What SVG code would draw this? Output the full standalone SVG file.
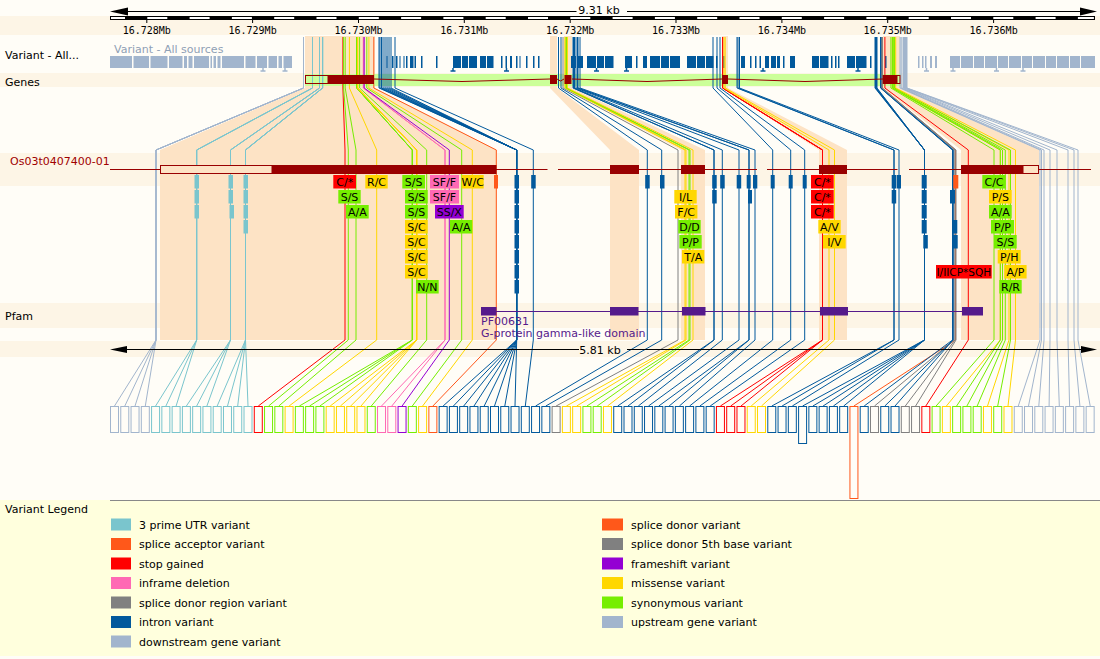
<svg xmlns="http://www.w3.org/2000/svg" width="1100" height="659" viewBox="0 0 1100 659">
<style>
text{font-family:"DejaVu Sans","Liberation Sans",sans-serif;font-size:11px;fill:#000}
.mono{font-family:"DejaVu Sans Mono","Liberation Mono",monospace;font-size:10px;text-anchor:middle}
.lt text,.lt{text-anchor:middle}
.band{fill:#fdf5e6}
.peach{fill:#fde3c5}
polyline{fill:none;stroke-width:1}
.bx rect{fill:#fffdf7;stroke-width:1}
.ds{stroke:#a2b5cd}.us{stroke:#a2b5cd}.utr{stroke:#7ac5cd}.stp{stroke:#ff0000}.syn{stroke:#76ee00}.mis{stroke:#ffd700}
.del{stroke:#ff69b4}.fs{stroke:#9400d3}.spl{stroke:#ff581a}.int{stroke:#02599c}.sdr{stroke:#808080}
.fds{fill:#a2b5cd}.futr{fill:#7ac5cd}.fstp{fill:#ff0000}.fsyn{fill:#76ee00}.fmis{fill:#ffd700}.fdel{fill:#ff69b4}
.ffs{fill:#9400d3}.fspl{fill:#ff581a}.fint{fill:#02599c}.fsdr{fill:#808080}
.ex{fill:#990000}.utrx{fill:none;stroke:#990000;stroke-width:1}
.pf{fill:#551a8b}
.gap{fill:#fffdf7}
</style>
<rect x="0" y="0" width="1100" height="659" fill="#fffdf7"/>
<g id="bands">
<rect class="band" x="0" y="16" width="1100" height="19"/>
<rect class="band" x="0" y="73" width="1100" height="14"/>
<rect class="band" x="0" y="153" width="1100" height="33"/>
<rect class="band" x="0" y="303" width="1100" height="25"/>
<rect class="band" x="0" y="341" width="1100" height="16"/>
</g>
<g id="legend-bg">
<rect x="0" y="500" width="1100" height="156" fill="#ffffdd"/>
<line x1="110" y1="500.5" x2="1100" y2="500.5" stroke="#888" stroke-width="1"/>
</g>
<g id="exon-shading">
<polygon class="peach" points="305,36 375,36 375,88 497,150 497,340 160,340 160,150 305,88"/>
<polygon class="peach" points="550,36 557,36 557,88 639,150 639,340 610,340 610,150 550,88"/>
<polygon class="peach" points="564,36 572,36 572,88 705,150 705,340 681,340 681,150 564,88"/>
<polygon class="peach" points="722,36 728,36 728,88 847,150 847,340 819,340 819,150 722,88"/>
<polygon class="peach" points="883,36 900,36 900,88 1039,150 1039,340 961,340 961,150 883,88"/>
</g>
<g id="gene-band"><rect x="305" y="74" width="596" height="12" fill="#ccff99"/></g>
<g id="variant-track">
<text x="114" y="53" style="fill:#8fa0b5">Variant - All sources</text>
<rect class="fds" x="110" y="56" width="182" height="12"/>
<g class="gap">
<rect x="132" y="56" width="1.5" height="12"/><rect x="149" y="56" width="1.5" height="12"/><rect x="167.5" y="56" width="1.5" height="12"/><rect x="182.5" y="56" width="1.5" height="12"/><rect x="187" y="56" width="1.5" height="12"/><rect x="192.5" y="56" width="1.5" height="12"/><rect x="209" y="56" width="1.5" height="12"/><rect x="212" y="56" width="1.5" height="12"/><rect x="216" y="56" width="1.5" height="12"/><rect x="220.5" y="56" width="1.5" height="12"/><rect x="244" y="56" width="1.5" height="12"/><rect x="255.5" y="56" width="1.5" height="12"/><rect x="267" y="56" width="1.5" height="12"/><rect x="277" y="56" width="1.5" height="12"/><rect x="282" y="56" width="1.5" height="12"/>
</g>
<g class="fint">
<rect x="386.5" y="56" width="1" height="12"/><rect x="392" y="56" width="1.5" height="12"/><rect x="396" y="56" width="1.5" height="12"/><rect x="399.5" y="56" width="1" height="12"/><rect x="403.5" y="56" width="1" height="12"/><rect x="406" y="56" width="1.5" height="12"/><rect x="410" y="56" width="3.5" height="12"/><rect x="414.5" y="56" width="1.5" height="12"/><rect x="421" y="56" width="1.5" height="12"/><rect x="436" y="56" width="1.5" height="12"/><rect x="453" y="56" width="8" height="12"/><rect x="462" y="56" width="6" height="12"/><rect x="469" y="56" width="8" height="12"/><rect x="480" y="56" width="6" height="12"/><rect x="487" y="56" width="6.5" height="12"/><rect x="501" y="56" width="1.5" height="12"/><rect x="505.5" y="56" width="1.5" height="12"/><rect x="510" y="56" width="2" height="12"/><rect x="516" y="56" width="1.5" height="12"/><rect x="519.5" y="56" width="1" height="12"/><rect x="526" y="56" width="1.5" height="12"/><rect x="533" y="56" width="1.5" height="12"/><rect x="538" y="56" width="1.5" height="12"/><rect x="571" y="56" width="5" height="12"/><rect x="577" y="56" width="6" height="12"/><rect x="587" y="56" width="9" height="12"/><rect x="597" y="56" width="7" height="12"/><rect x="605" y="56" width="8.5" height="12"/><rect x="625" y="56" width="7" height="12"/><rect x="636" y="56" width="1.5" height="12"/><rect x="643" y="56" width="4" height="12"/><rect x="650" y="56" width="10" height="12"/><rect x="661" y="56" width="8" height="12"/><rect x="670" y="56" width="10" height="12"/><rect x="687" y="56" width="9" height="12"/><rect x="697" y="56" width="8" height="12"/><rect x="706" y="56" width="7.5" height="12"/><rect x="716" y="56" width="1.5" height="12"/><rect x="723" y="56" width="1.5" height="12"/><rect x="741" y="56" width="4" height="12"/><rect x="750" y="56" width="1.5" height="12"/><rect x="755" y="56" width="1.5" height="12"/><rect x="759.5" y="56" width="1.5" height="12"/><rect x="765" y="56" width="4" height="12"/><rect x="771" y="56" width="5" height="12"/><rect x="777" y="56" width="3" height="12"/><rect x="783" y="56" width="1.5" height="12"/><rect x="790" y="56" width="5" height="12"/><rect x="812" y="56" width="7" height="12"/><rect x="820" y="56" width="8.5" height="12"/><rect x="831" y="56" width="1.5" height="12"/><rect x="835" y="56" width="1.5" height="12"/><rect x="838" y="56" width="1.5" height="12"/><rect x="847" y="56" width="8" height="12"/><rect x="856" y="56" width="10.5" height="12"/><rect x="870" y="56" width="1.5" height="12"/><rect x="885" y="56" width="1.5" height="12"/>
<path d="M450.5,71h5M453,68v3M504,71h5M506.5,68v3M594,71h5M596.5,68v3M624,71h5M626.5,68v3M760.5,71h5M763,68v3M855.5,71h5M858,68v3" stroke="#02599c" stroke-width="1.5" fill="none"/>
</g>
<g class="fds">
<rect x="918" y="56" width="1.5" height="12"/><rect x="922" y="56" width="1.5" height="12"/><rect x="925" y="56" width="1.5" height="12"/><rect x="930" y="56" width="2" height="12"/><rect x="935" y="56" width="2" height="12"/><rect x="950" y="56" width="145" height="12"/>
</g>
<g class="gap">
<rect x="960" y="56" width="1" height="12"/><rect x="973" y="56" width="1" height="12"/><rect x="984" y="56" width="1" height="12"/><rect x="997" y="56" width="1" height="12"/><rect x="1008" y="56" width="1" height="12"/><rect x="1021" y="56" width="1" height="12"/><rect x="1032" y="56" width="1" height="12"/><rect x="1045" y="56" width="1" height="12"/><rect x="1056" y="56" width="1" height="12"/><rect x="1069" y="56" width="1" height="12"/><rect x="1080" y="56" width="1" height="12"/>
</g>
<path d="M260.5,71h5M263,68v3M282.5,71h5M285,68v3M924,71h5M926.5,68v3M950.5,71h5M953,68v3M994,71h5M996.5,68v3M1020.5,71h5M1023,68v3" stroke="#a2b5cd" stroke-width="1.5" fill="none"/>
</g>
<g id="connectors">
<polyline class="ds" points="303.5,37 303.5,88 156,150 156,340 114.5,406"/>
<polyline class="ds" points="303.5,37 303.5,88 156,150 156,340 124.8,406"/>
<polyline class="ds" points="303.5,37 303.5,88 156,150 156,340 135,406"/>
<polyline class="ds" points="303.5,37 303.5,88 156,150 156,340 145.3,406"/>
<polyline class="utr" points="312.5,37 312.5,88 196.7,150 196.7,340 155.6,406"/>
<polyline class="utr" points="312.5,37 312.5,88 196.7,150 196.7,340 165.9,406"/>
<polyline class="utr" points="312.5,37 312.5,88 196.7,150 196.7,340 176.1,406"/>
<polyline class="utr" points="319.5,37 319.5,88 230.5,150 230.5,340 186.4,406"/>
<polyline class="utr" points="319.5,37 319.5,88 230.5,150 230.5,340 196.7,406"/>
<polyline class="utr" points="319.5,37 319.5,88 230.5,150 230.5,340 206.9,406"/>
<polyline class="utr" points="322.6,37 322.6,88 245.5,150 245.5,340 217.2,406"/>
<polyline class="utr" points="322.6,37 322.6,88 245.5,150 245.5,340 227.5,406"/>
<polyline class="utr" points="322.6,37 322.6,88 245.5,150 245.5,340 237.7,406"/>
<polyline class="utr" points="322.6,37 322.6,88 245.5,150 245.5,340 248,406"/>
<polyline class="stp" points="342.9,37 342.9,88 345,150 345,340 258.3,406"/>
<polyline class="syn" points="343.6,37 343.6,88 348.3,150 348.3,340 268.6,406"/>
<polyline class="syn" points="345.2,37 345.2,88 356,150 356,340 278.8,406"/>
<polyline class="mis" points="349.4,37 349.4,88 376.7,150 376.7,340 289.1,406"/>
<polyline class="syn" points="356.7,37 356.7,88 412.3,150 412.3,340 299.4,406"/>
<polyline class="syn" points="356.7,37 356.7,88 412.3,150 412.3,340 309.6,406"/>
<polyline class="syn" points="356.7,37 356.7,88 412.3,150 412.3,340 319.9,406"/>
<polyline class="mis" points="357.6,37 357.6,88 416.7,150 416.7,340 330.2,406"/>
<polyline class="mis" points="357.6,37 357.6,88 416.7,150 416.7,340 340.4,406"/>
<polyline class="mis" points="357.6,37 357.6,88 416.7,150 416.7,340 350.7,406"/>
<polyline class="mis" points="357.6,37 357.6,88 416.7,150 416.7,340 361,406"/>
<polyline class="syn" points="359.6,37 359.6,88 426.7,150 426.7,340 371.3,406"/>
<polyline class="del" points="363.4,37 363.4,88 445,150 445,340 381.5,406"/>
<polyline class="del" points="363.4,37 363.4,88 445,150 445,340 391.8,406"/>
<polyline class="fs" points="364.2,37 364.2,88 449.3,150 449.3,340 402.1,406"/>
<polyline class="syn" points="366.8,37 366.8,88 461.7,150 461.7,340 412.3,406"/>
<polyline class="mis" points="368.9,37 368.9,88 472.3,150 472.3,340 422.6,406"/>
<polyline class="spl" points="373.8,37 373.8,88 496.3,150 496.3,340 432.9,406"/>
<polyline class="int" points="379,37 379,88 516.7,150 516.7,340 443.1,406"/>
<polyline class="int" points="380,37 380,88 516.7,150 516.7,340 453.4,406"/>
<polyline class="int" points="381.5,37 381.5,88 516.7,150 516.7,340 463.7,406"/>
<polyline class="int" points="383,37 383,88 516.7,150 516.7,340 474,406"/>
<polyline class="int" points="385,37 385,88 516.7,150 516.7,340 484.2,406"/>
<polyline class="int" points="387,37 387,88 516.7,150 516.7,340 494.5,406"/>
<polyline class="int" points="389,37 389,88 516.7,150 516.7,340 504.8,406"/>
<polyline class="int" points="391,37 391,88 516.7,150 516.7,340 515,406"/>
<polyline class="int" points="395,37 395,88 533.3,150 533.3,340 525.3,406"/>
<polyline class="int" points="558.5,37 558.5,88 647.3,150 647.3,340 535.6,406"/>
<polyline class="int" points="561,37 561,88 661.7,150 661.7,340 545.8,406"/>
<polyline class="sdr" points="563,37 563,88 678,150 678,340 556.1,406"/>
<polyline class="mis" points="565,37 565,88 685,150 685,340 566.4,406"/>
<polyline class="mis" points="565.3,37 565.3,88 686,150 686,340 576.7,406"/>
<polyline class="syn" points="566.2,37 566.2,88 689,150 689,340 586.9,406"/>
<polyline class="syn" points="566.5,37 566.5,88 690,150 690,340 597.2,406"/>
<polyline class="mis" points="567.4,37 567.4,88 693,150 693,340 607.5,406"/>
<polyline class="int" points="573,37 573,88 714,150 714,340 617.7,406"/>
<polyline class="int" points="573.5,37 573.5,88 714,150 714,340 628,406"/>
<polyline class="int" points="574.5,37 574.5,88 722.3,150 722.3,340 638.3,406"/>
<polyline class="int" points="576,37 576,88 739,150 739,340 648.5,406"/>
<polyline class="int" points="577.5,37 577.5,88 749,150 749,340 658.8,406"/>
<polyline class="int" points="578,37 578,88 749,150 749,340 669.1,406"/>
<polyline class="int" points="580,37 580,88 755,150 755,340 679.4,406"/>
<polyline class="int" points="713,37 713,88 772.7,150 772.7,340 689.6,406"/>
<polyline class="int" points="717,37 717,88 790.7,150 790.7,340 699.9,406"/>
<polyline class="int" points="720,37 720,88 804.7,150 804.7,340 710.2,406"/>
<polyline class="stp" points="722.6,37 722.6,88 822.5,150 822.5,340 720.4,406"/>
<polyline class="stp" points="722.6,37 722.6,88 822.5,150 822.5,340 730.7,406"/>
<polyline class="stp" points="722.6,37 722.6,88 822.5,150 822.5,340 741,406"/>
<polyline class="mis" points="724,37 724,88 829,150 829,340 751.2,406"/>
<polyline class="mis" points="725.2,37 725.2,88 834.5,150 834.5,340 761.5,406"/>
<polyline class="int" points="737,37 737,88 894,150 894,340 771.8,406"/>
<polyline class="int" points="738,37 738,88 894,150 894,340 782.1,406"/>
<polyline class="int" points="739.5,37 739.5,88 899,150 899,340 792.3,406"/>
<polyline class="int" points="875,37 875,88 924.5,150 924.5,340 802.6,406"/>
<polyline class="int" points="875.5,37 875.5,88 924.5,150 924.5,340 812.9,406"/>
<polyline class="int" points="876,37 876,88 924.5,150 924.5,340 823.1,406"/>
<polyline class="int" points="876.5,37 876.5,88 924.5,150 924.5,340 833.4,406"/>
<polyline class="int" points="877,37 877,88 924.5,150 924.5,340 843.7,406"/>
<polyline class="spl" points="882,37 882,88 955.5,150 955.5,340 853.9,406"/>
<polyline class="int" points="880.5,37 880.5,88 952.5,150 952.5,340 864.2,406"/>
<polyline class="sdr" points="881.5,37 881.5,88 954,150 954,340 874.5,406"/>
<polyline class="int" points="880.7,37 880.7,88 953,150 953,340 884.8,406"/>
<polyline class="int" points="881,37 881,88 953,150 953,340 895,406"/>
<polyline class="sdr" points="882,37 882,88 955,150 955,340 905.3,406"/>
<polyline class="sdr" points="882.4,37 882.4,88 956,150 956,340 915.6,406"/>
<polyline class="stp" points="884.9,37 884.9,88 968.3,150 968.3,340 925.8,406"/>
<polyline class="syn" points="890.9,37 890.9,88 994,150 994,340 936.1,406"/>
<polyline class="mis" points="892.3,37 892.3,88 1000.3,150 1000.3,340 946.4,406"/>
<polyline class="syn" points="892.3,37 892.3,88 1000.3,150 1000.3,340 956.6,406"/>
<polyline class="syn" points="892.8,37 892.8,88 1002.5,150 1002.5,340 966.9,406"/>
<polyline class="syn" points="893.4,37 893.4,88 1005.3,150 1005.3,340 977.2,406"/>
<polyline class="mis" points="894.3,37 894.3,88 1009,150 1009,340 987.5,406"/>
<polyline class="syn" points="894.6,37 894.6,88 1010.5,150 1010.5,340 997.7,406"/>
<polyline class="mis" points="895.7,37 895.7,88 1015.5,150 1015.5,340 1008,406"/>
<polyline class="us" points="900,37 900,88 1040,150 1040,340 1018.3,406"/>
<polyline class="us" points="901,37 901,88 1041.5,150 1041.5,340 1028.5,406"/>
<polyline class="us" points="902,37 902,88 1044,150 1044,340 1038.8,406"/>
<polyline class="us" points="903.5,37 903.5,88 1050,150 1050,340 1049.1,406"/>
<polyline class="us" points="904.5,37 904.5,88 1057,150 1057,340 1059.3,406"/>
<polyline class="us" points="905.5,37 905.5,88 1068,150 1068,340 1069.6,406"/>
<polyline class="us" points="906.5,37 906.5,88 1074,150 1074,340 1079.9,406"/>
<polyline class="us" points="907,37 907,88 1078,150 1078,340 1090.2,406"/>
</g>
<g id="gene">
<polyline points="374,79 462,81.5 550,79" stroke="#990000"/>
<polyline points="557,79 560.5,81 564,79" stroke="#990000"/>
<polyline points="572,79 647,81.5 722,79" stroke="#990000"/>
<polyline points="728,79 805,81.5 883,79" stroke="#990000"/>
<rect class="utrx" x="305.5" y="75.5" width="22.5" height="8"/>
<rect class="ex" x="328" y="75" width="46" height="9"/>
<rect class="ex" x="550" y="75" width="7" height="9"/>
<rect class="ex" x="564.5" y="75" width="7" height="9"/>
<rect class="ex" x="722" y="75" width="6" height="9"/>
<rect class="ex" x="882.7" y="75" width="14.3" height="9"/>
<rect class="utrx" x="897" y="75.5" width="3" height="8"/>
</g>
<g id="transcript">
<path d="M110,169.5H547.5M558,169.5H757M767,169.5H897.5M909,169.5H1091" stroke="#990000" stroke-width="1"/>
<rect class="utrx" x="160.5" y="165.5" width="111.5" height="8" style="fill:#fde3c5"/>
<rect class="ex" x="272" y="165" width="224.5" height="9"/>
<rect class="ex" x="610" y="165" width="29" height="9"/>
<rect class="ex" x="681" y="165" width="24" height="9"/>
<rect class="ex" x="819" y="165" width="28" height="9"/>
<rect class="ex" x="961" y="165" width="62" height="9"/>
<rect class="utrx" x="1023" y="165.5" width="15.5" height="8" style="fill:#fde3c5"/>
</g>
<g id="markers">
<g class="futr">
<rect x="194.5" y="175" width="4.5" height="13.5"/><rect x="194.5" y="190" width="4.5" height="13.5"/><rect x="194.5" y="205" width="4.5" height="13.5"/>
<rect x="228.5" y="175" width="4.5" height="13.5"/><rect x="228.5" y="190" width="4.5" height="13.5"/><rect x="229.5" y="205" width="4.5" height="13.5"/>
<rect x="243.5" y="175" width="4.5" height="13.5"/><rect x="243.5" y="190" width="4.5" height="13.5"/><rect x="243.5" y="205" width="4.5" height="13.5"/><rect x="243.5" y="220" width="4.5" height="13.5"/>
</g>
<g class="fspl"><rect x="494" y="175" width="4" height="13.5"/><rect x="953.3" y="175" width="5" height="13.5"/></g>
<g class="fint">
<rect x="514.5" y="175" width="4.5" height="13.5"/><rect x="514.5" y="190" width="4.5" height="13.5"/><rect x="514.5" y="205" width="4.5" height="13.5"/><rect x="514.5" y="220" width="4.5" height="13.5"/><rect x="514.5" y="235" width="4.5" height="13.5"/><rect x="514.5" y="250" width="4.5" height="13.5"/><rect x="514.5" y="265" width="4.5" height="13.5"/><rect x="514.5" y="280" width="4.5" height="13.5"/>
<rect x="531.2" y="175" width="4.5" height="13.5"/>
<rect x="645.2" y="175" width="4.5" height="13.5"/>
<rect x="660" y="175" width="4.5" height="13.5"/>
<rect x="712.2" y="175" width="4.5" height="13.5"/><rect x="712.2" y="190" width="4.5" height="13.5"/>
<rect x="720.2" y="175" width="4.5" height="13.5"/>
<rect x="736.7" y="175" width="4.5" height="13.5"/>
<rect x="746.7" y="175" width="4" height="13.5"/><rect x="748" y="190" width="4" height="13.5"/>
<rect x="753" y="175" width="4.3" height="13.5"/>
<rect x="770.7" y="175" width="4" height="13.5"/>
<rect x="788.7" y="175" width="4" height="13.5"/>
<rect x="802.7" y="175" width="4" height="13.5"/>
<rect x="891.7" y="175" width="4.5" height="13.5"/><rect x="891.7" y="190" width="4.5" height="13.5"/>
<rect x="896.7" y="175" width="4.3" height="13.5"/>
<rect x="921.7" y="175" width="5" height="13.5"/><rect x="921.7" y="190" width="5" height="13.5"/><rect x="921.7" y="205" width="5" height="13.5"/><rect x="921.7" y="220" width="5" height="13.5"/><rect x="923.3" y="235" width="4.5" height="13.5"/>
<rect x="950" y="190" width="5" height="13.5"/><rect x="952.3" y="220" width="5" height="13.5"/><rect x="952.7" y="235" width="5" height="13.5"/>
</g>
</g>
<g id="labels" class="lt">
<rect class="fstp" x="333.3" y="175" width="22.7" height="13.5"/><text x="344.7" y="186">C/*</text>
<rect class="fmis" x="365.3" y="175" width="22.4" height="13.5"/><text x="376.5" y="186">R/C</text>
<rect class="fsyn" x="402.3" y="175" width="22.7" height="13.5"/><text x="413.7" y="186">S/S</text>
<rect class="fdel" x="430" y="175" width="29" height="13.5"/><text x="444.5" y="186">SF/F</text>
<rect class="fmis" x="461.7" y="175" width="22" height="13.5"/><text x="472.7" y="186">W/C</text>
<rect class="fsyn" x="338.3" y="190" width="22.4" height="13.5"/><text x="349.5" y="201">S/S</text>
<rect class="fsyn" x="405" y="190" width="22.7" height="13.5"/><text x="416.4" y="201">S/S</text>
<rect class="fdel" x="430" y="190" width="29" height="13.5"/><text x="444.5" y="201">SF/F</text>
<rect class="fsyn" x="346" y="205" width="22.7" height="13.5"/><text x="357.4" y="216">A/A</text>
<rect class="fsyn" x="405" y="205" width="22.7" height="13.5"/><text x="416.4" y="216">S/S</text>
<rect class="ffs" x="435" y="205" width="28.7" height="13.5"/><text x="449.3" y="216">SS/X</text>
<rect class="fmis" x="405" y="220" width="22.7" height="13.5"/><text x="416.4" y="231">S/C</text>
<rect class="fsyn" x="450" y="220" width="22.3" height="13.5"/><text x="461.2" y="231">A/A</text>
<rect class="fmis" x="405" y="235" width="22.7" height="13.5"/><text x="416.4" y="246">S/C</text>
<rect class="fmis" x="405" y="250" width="22.7" height="13.5"/><text x="416.4" y="261">S/C</text>
<rect class="fmis" x="405" y="265" width="22.7" height="13.5"/><text x="416.4" y="276">S/C</text>
<rect class="fsyn" x="416" y="280" width="22.7" height="13.5"/><text x="427.4" y="291">N/N</text>
<rect class="fmis" x="674.3" y="190" width="22.4" height="13.5"/><text x="685.5" y="201">I/L</text>
<rect class="fmis" x="675" y="205" width="22.4" height="13.5"/><text x="686.2" y="216">F/C</text>
<rect class="fsyn" x="678.3" y="220" width="22.4" height="13.5"/><text x="689.5" y="231">D/D</text>
<rect class="fsyn" x="679.3" y="235" width="22.4" height="13.5"/><text x="690.5" y="246">P/P</text>
<rect class="fmis" x="682" y="250" width="22.3" height="13.5"/><text x="693.2" y="261">T/A</text>
<rect class="fstp" x="811" y="175" width="22.7" height="13.5"/><text x="822.4" y="186">C/*</text>
<rect class="fstp" x="811" y="190" width="22.7" height="13.5"/><text x="822.4" y="201">C/*</text>
<rect class="fstp" x="811" y="205" width="22.7" height="13.5"/><text x="822.4" y="216">C/*</text>
<rect class="fmis" x="818.3" y="220" width="22.4" height="13.5"/><text x="829.5" y="231">A/V</text>
<rect class="fmis" x="823" y="235" width="22.7" height="13.5"/><text x="834.4" y="246">I/V</text>
<rect class="fsyn" x="982.3" y="175" width="23.4" height="13.5"/><text x="994" y="186">C/C</text>
<rect class="fmis" x="989" y="190" width="22.7" height="13.5"/><text x="1000.4" y="201">P/S</text>
<rect class="fsyn" x="989" y="205" width="22.7" height="13.5"/><text x="1000.4" y="216">A/A</text>
<rect class="fsyn" x="991" y="220" width="23" height="13.5"/><text x="1002.5" y="231">P/P</text>
<rect class="fsyn" x="994" y="235" width="22.7" height="13.5"/><text x="1005.4" y="246">S/S</text>
<rect class="fmis" x="997.7" y="250" width="23" height="13.5"/><text x="1009.2" y="261">P/H</text>
<rect class="fstp" x="936" y="265" width="55.7" height="13.5"/><text x="963.8" y="276" style="font-size:10.5px">I/IICP*SQH</text>
<rect class="fmis" x="1004.3" y="265" width="22.3" height="13.5"/><text x="1015.5" y="276">A/P</text>
<rect class="fsyn" x="999.3" y="280" width="22.4" height="13.5"/><text x="1010.5" y="291">R/R</text>
</g>
<g id="pfam">
<line x1="481" y1="311.5" x2="963" y2="311.5" stroke="#551a8b" stroke-width="1"/>
<rect class="pf" x="481" y="307" width="15.5" height="8.5"/>
<rect class="pf" x="610" y="307" width="28.5" height="8.5"/>
<rect class="pf" x="682" y="307" width="23.5" height="8.5"/>
<rect class="pf" x="820" y="307" width="28" height="8.5"/>
<rect class="pf" x="962" y="307" width="21" height="8.5"/>
<text x="481" y="325" style="fill:#551a8b">PF00631</text>
<text x="481" y="337" style="fill:#551a8b">G-protein gamma-like domain</text>
</g>
<g id="scale-top">
<path d="M128,11.5H576.5M627,11.5H1081" stroke="#000" stroke-width="1.2"/>
<polygon points="110,11.5 128,7.5 128,15.5"/>
<polygon points="1097,11.5 1080,7.5 1080,15.5"/>
<text x="599" y="14" style="text-anchor:middle">9.31 kb</text>
<rect x="110" y="16" width="985" height="4" fill="#000"/>
<g fill="#fff">
<rect x="111" y="17" width="14" height="2"/><rect x="147.3" y="17" width="20" height="2"/><rect x="189.6" y="17" width="20" height="2"/><rect x="231.9" y="17" width="20" height="2"/><rect x="274.2" y="17" width="20" height="2"/><rect x="316.5" y="17" width="20" height="2"/><rect x="358.8" y="17" width="20" height="2"/><rect x="401.1" y="17" width="20" height="2"/><rect x="443.4" y="17" width="20" height="2"/><rect x="485.7" y="17" width="20" height="2"/><rect x="528" y="17" width="20" height="2"/><rect x="570.3" y="17" width="20" height="2"/><rect x="612.6" y="17" width="20" height="2"/><rect x="654.9" y="17" width="20" height="2"/><rect x="697.2" y="17" width="20" height="2"/><rect x="739.5" y="17" width="20" height="2"/><rect x="781.8" y="17" width="20" height="2"/><rect x="824.1" y="17" width="20" height="2"/><rect x="866.4" y="17" width="20" height="2"/><rect x="908.7" y="17" width="20" height="2"/><rect x="951" y="17" width="20" height="2"/><rect x="993.3" y="17" width="20" height="2"/><rect x="1035.6" y="17" width="20" height="2"/><rect x="1077.9" y="17" width="16" height="2"/>
</g>
<path d="M146.8,20v3M252.6,20v3M358.5,20v3M464.3,20v3M570.2,20v3M676,20v3M781.9,20v3M887.7,20v3M993.6,20v3" stroke="#000" stroke-width="1"/>
<text class="mono" x="146.8" y="34">16.728Mb</text>
<text class="mono" x="252.6" y="34">16.729Mb</text>
<text class="mono" x="358.5" y="34">16.730Mb</text>
<text class="mono" x="464.3" y="34">16.731Mb</text>
<text class="mono" x="570.2" y="34">16.732Mb</text>
<text class="mono" x="676" y="34">16.733Mb</text>
<text class="mono" x="781.9" y="34">16.734Mb</text>
<text class="mono" x="887.7" y="34">16.735Mb</text>
<text class="mono" x="993.6" y="34">16.736Mb</text>
</g>
<g id="scale-transcript">
<path d="M126,349.5H579M627,349.5H1081" stroke="#000" stroke-width="1.2"/>
<polygon points="110,349.5 127,346 127,353"/>
<polygon points="1097,349.5 1081,346 1081,353"/>
<text x="600" y="353.5" style="text-anchor:middle">5.81 kb</text>
</g>
<g id="track-labels">
<text x="5" y="59">Variant - All...</text>
<text x="5" y="86">Genes</text>
<text x="10" y="164.5" style="fill:#a00000">Os03t0407400-01</text>
<text x="5" y="320">Pfam</text>
<text x="5" y="513">Variant Legend</text>
</g>
<g id="boxes" class="bx">
<rect class="ds" x="110.5" y="406.5" width="8" height="26"/>
<rect class="ds" x="120.77" y="406.5" width="8" height="26"/>
<rect class="ds" x="131.04" y="406.5" width="8" height="26"/>
<rect class="ds" x="141.31" y="406.5" width="8" height="26"/>
<rect class="utr" x="151.58" y="406.5" width="8" height="26"/>
<rect class="utr" x="161.85" y="406.5" width="8" height="26"/>
<rect class="utr" x="172.12" y="406.5" width="8" height="26"/>
<rect class="utr" x="182.39" y="406.5" width="8" height="26"/>
<rect class="utr" x="192.66" y="406.5" width="8" height="26"/>
<rect class="utr" x="202.93" y="406.5" width="8" height="26"/>
<rect class="utr" x="213.2" y="406.5" width="8" height="26"/>
<rect class="utr" x="223.47" y="406.5" width="8" height="26"/>
<rect class="utr" x="233.74" y="406.5" width="8" height="26"/>
<rect class="utr" x="244.01" y="406.5" width="8" height="26"/>
<rect class="stp" x="254.28" y="406.5" width="8" height="26"/>
<rect class="syn" x="264.55" y="406.5" width="8" height="26"/>
<rect class="syn" x="274.82" y="406.5" width="8" height="26"/>
<rect class="mis" x="285.09" y="406.5" width="8" height="26"/>
<rect class="syn" x="295.36" y="406.5" width="8" height="26"/>
<rect class="syn" x="305.63" y="406.5" width="8" height="26"/>
<rect class="syn" x="315.9" y="406.5" width="8" height="26"/>
<rect class="mis" x="326.17" y="406.5" width="8" height="26"/>
<rect class="mis" x="336.44" y="406.5" width="8" height="26"/>
<rect class="mis" x="346.71" y="406.5" width="8" height="26"/>
<rect class="mis" x="356.98" y="406.5" width="8" height="26"/>
<rect class="syn" x="367.25" y="406.5" width="8" height="26"/>
<rect class="del" x="377.52" y="406.5" width="8" height="26"/>
<rect class="del" x="387.79" y="406.5" width="8" height="26"/>
<rect class="fs" x="398.06" y="406.5" width="8" height="26"/>
<rect class="syn" x="408.33" y="406.5" width="8" height="26"/>
<rect class="mis" x="418.6" y="406.5" width="8" height="26"/>
<rect class="spl" x="428.87" y="406.5" width="8" height="26"/>
<rect class="int" x="439.14" y="406.5" width="8" height="26"/>
<rect class="int" x="449.41" y="406.5" width="8" height="26"/>
<rect class="int" x="459.68" y="406.5" width="8" height="26"/>
<rect class="int" x="469.95" y="406.5" width="8" height="26"/>
<rect class="int" x="480.22" y="406.5" width="8" height="26"/>
<rect class="int" x="490.49" y="406.5" width="8" height="26"/>
<rect class="int" x="500.76" y="406.5" width="8" height="26"/>
<rect class="int" x="511.03" y="406.5" width="8" height="26"/>
<rect class="int" x="521.3" y="406.5" width="8" height="26"/>
<rect class="int" x="531.57" y="406.5" width="8" height="26"/>
<rect class="int" x="541.84" y="406.5" width="8" height="26"/>
<rect class="sdr" x="552.11" y="406.5" width="8" height="26"/>
<rect class="mis" x="562.38" y="406.5" width="8" height="26"/>
<rect class="mis" x="572.65" y="406.5" width="8" height="26"/>
<rect class="syn" x="582.92" y="406.5" width="8" height="26"/>
<rect class="syn" x="593.19" y="406.5" width="8" height="26"/>
<rect class="mis" x="603.46" y="406.5" width="8" height="26"/>
<rect class="int" x="613.73" y="406.5" width="8" height="26"/>
<rect class="int" x="624" y="406.5" width="8" height="26"/>
<rect class="int" x="634.27" y="406.5" width="8" height="26"/>
<rect class="int" x="644.54" y="406.5" width="8" height="26"/>
<rect class="int" x="654.81" y="406.5" width="8" height="26"/>
<rect class="int" x="665.08" y="406.5" width="8" height="26"/>
<rect class="int" x="675.35" y="406.5" width="8" height="26"/>
<rect class="int" x="685.62" y="406.5" width="8" height="26"/>
<rect class="int" x="695.89" y="406.5" width="8" height="26"/>
<rect class="int" x="706.16" y="406.5" width="8" height="26"/>
<rect class="stp" x="716.43" y="406.5" width="8" height="26"/>
<rect class="stp" x="726.7" y="406.5" width="8" height="26"/>
<rect class="stp" x="736.97" y="406.5" width="8" height="26"/>
<rect class="mis" x="747.24" y="406.5" width="8" height="26"/>
<rect class="mis" x="757.51" y="406.5" width="8" height="26"/>
<rect class="int" x="767.78" y="406.5" width="8" height="26"/>
<rect class="int" x="778.05" y="406.5" width="8" height="26"/>
<rect class="int" x="788.32" y="406.5" width="8" height="26"/>
<rect class="int" x="798.59" y="406.5" width="8" height="37"/>
<rect class="int" x="808.86" y="406.5" width="8" height="26"/>
<rect class="int" x="819.13" y="406.5" width="8" height="26"/>
<rect class="int" x="829.4" y="406.5" width="8" height="26"/>
<rect class="int" x="839.67" y="406.5" width="8" height="26"/>
<rect class="spl" x="849.94" y="406.5" width="8" height="92"/>
<rect class="int" x="860.21" y="406.5" width="8" height="26"/>
<rect class="sdr" x="870.48" y="406.5" width="8" height="26"/>
<rect class="int" x="880.75" y="406.5" width="8" height="26"/>
<rect class="int" x="891.02" y="406.5" width="8" height="26"/>
<rect class="sdr" x="901.29" y="406.5" width="8" height="26"/>
<rect class="sdr" x="911.56" y="406.5" width="8" height="26"/>
<rect class="stp" x="921.83" y="406.5" width="8" height="26"/>
<rect class="syn" x="932.1" y="406.5" width="8" height="26"/>
<rect class="mis" x="942.37" y="406.5" width="8" height="26"/>
<rect class="syn" x="952.64" y="406.5" width="8" height="26"/>
<rect class="syn" x="962.91" y="406.5" width="8" height="26"/>
<rect class="syn" x="973.18" y="406.5" width="8" height="26"/>
<rect class="mis" x="983.45" y="406.5" width="8" height="26"/>
<rect class="syn" x="993.72" y="406.5" width="8" height="26"/>
<rect class="mis" x="1003.99" y="406.5" width="8" height="26"/>
<rect class="us" x="1014.26" y="406.5" width="8" height="26"/>
<rect class="us" x="1024.53" y="406.5" width="8" height="26"/>
<rect class="us" x="1034.8" y="406.5" width="8" height="26"/>
<rect class="us" x="1045.07" y="406.5" width="8" height="26"/>
<rect class="us" x="1055.34" y="406.5" width="8" height="26"/>
<rect class="us" x="1065.61" y="406.5" width="8" height="26"/>
<rect class="us" x="1075.88" y="406.5" width="8" height="26"/>
<rect class="us" x="1086.15" y="406.5" width="8" height="26"/>
</g>
<g id="legend">
<rect class="futr" x="111" y="518.5" width="20" height="12"/><text x="139" y="528.5">3 prime UTR variant</text>
<rect class="fspl" x="111" y="538" width="20" height="12"/><text x="139" y="548">splice acceptor variant</text>
<rect class="fstp" x="111" y="557.5" width="20" height="12"/><text x="139" y="567.5">stop gained</text>
<rect class="fdel" x="111" y="577" width="20" height="12"/><text x="139" y="587">inframe deletion</text>
<rect class="fsdr" x="111" y="596.5" width="20" height="12"/><text x="139" y="606.5">splice donor region variant</text>
<rect class="fint" x="111" y="616" width="20" height="12"/><text x="139" y="626">intron variant</text>
<rect class="fds" x="111" y="635.5" width="20" height="12"/><text x="139" y="645.5">downstream gene variant</text>
<rect class="fspl" x="602" y="518.5" width="21" height="12"/><text x="631" y="528.5">splice donor variant</text>
<rect class="fsdr" x="602" y="538" width="21" height="12"/><text x="631" y="548">splice donor 5th base variant</text>
<rect class="ffs" x="602" y="557.5" width="21" height="12"/><text x="631" y="567.5">frameshift variant</text>
<rect class="fmis" x="602" y="577" width="21" height="12"/><text x="631" y="587">missense variant</text>
<rect class="fsyn" x="602" y="596.5" width="21" height="12"/><text x="631" y="606.5">synonymous variant</text>
<rect class="fds" x="602" y="616" width="21" height="12"/><text x="631" y="626">upstream gene variant</text>
</g>
</svg>
